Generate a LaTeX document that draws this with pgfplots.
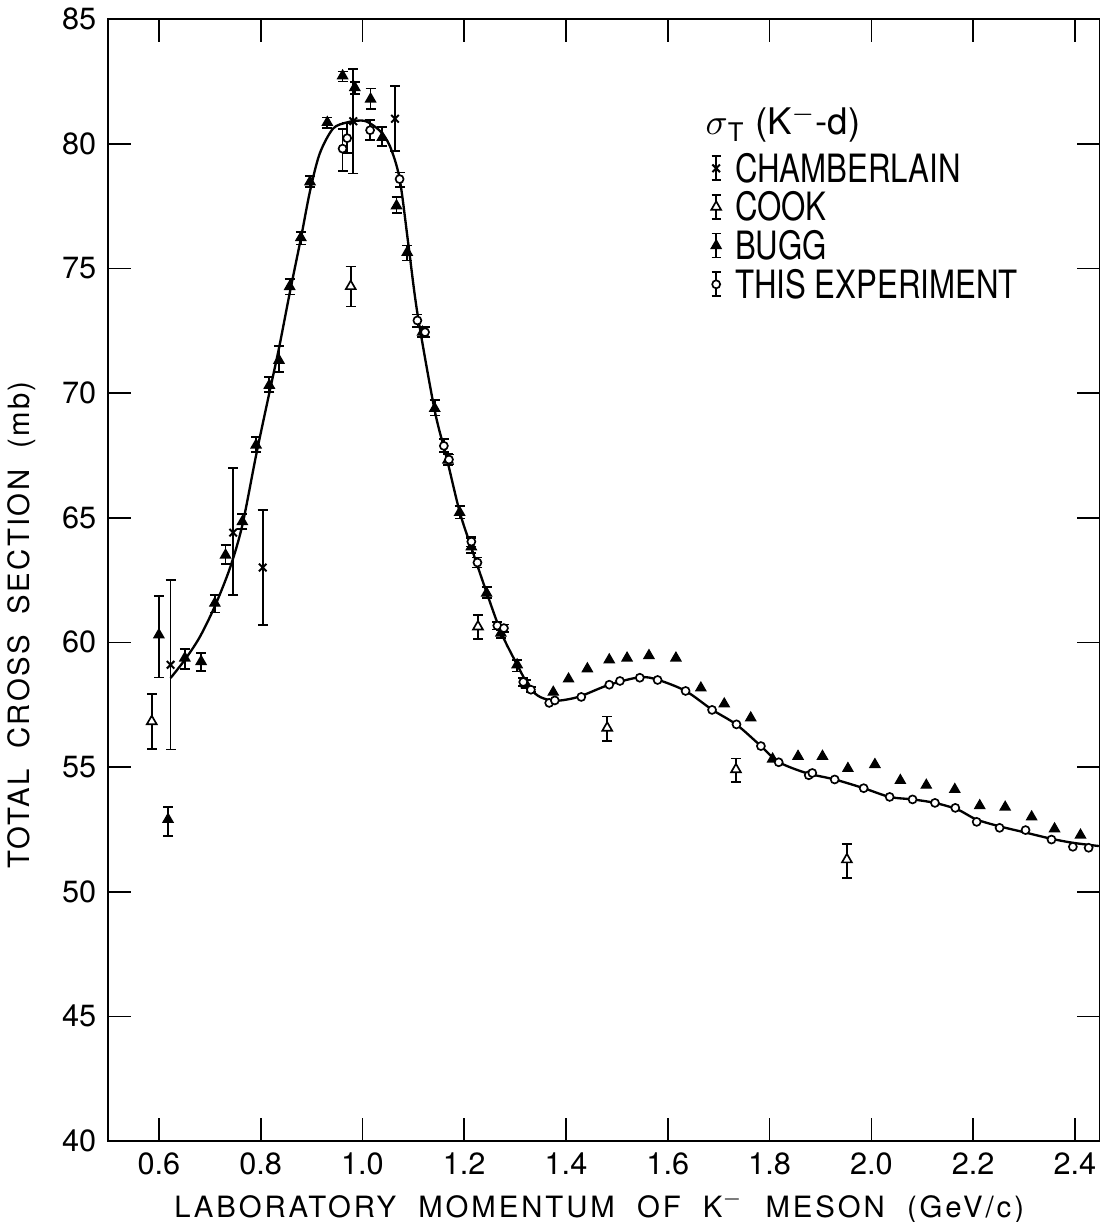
\documentclass[border=0pt]{standalone}
\usepackage{fontspec}
\setmainfont{TeX Gyre Heros}
\usepackage{graphicx}
\usepackage{pgfplots}
\pgfplotsset{compat=1.18}
\pgfplotsset{
  ebar/.style={
    error bars/y dir=both, error bars/y explicit,
    error bars/error mark options={rotate=90, mark size=1.5pt, line width=0.5pt, black, solid},
    error bars/error bar style={line width=0.5pt, black, solid}},
}
\begin{document}
\begin{tikzpicture}
\path[use as bounding box] (-32.4pt,-24.3pt) rectangle (297.3pt,342.3pt);
\begin{axis}[
  scale only axis, width=297.7pt, height=336.6pt,
  xmin=0.5, xmax=2.45, ymin=40, ymax=85,
  xtick={0.6,0.8,1.0,1.2,1.4,1.6,1.8,2.0,2.2,2.4},
  xticklabels={0.6,0.8,1.0,1.2,1.4,1.6,1.8,2.0,2.2,2.4},
  ytick={40,45,50,55,60,65,70,75,80,85},
  tick align=inside, major tick length=7pt,
  tick style={line width=0.5pt, black},
  axis line style={line width=0.6pt},
  /pgf/number format/assume math mode=true,
  tick label style={font=\fontsize{9.2}{10}\selectfont},
  xlabel={\addfontfeature{LetterSpace=10}LABORATORY\ \ MOMENTUM\ \ OF\ \ K$^{-}$\ \ MESON\ \ (GeV/c)},
  ylabel={\addfontfeature{LetterSpace=8}TOTAL\ \ CROSS\ \ SECTION\ \ (mb)},
  every axis x label/.style={at={(rel axis cs:0.495,0)}, yshift=-22.8pt, anchor=base, font=\fontsize{8.8}{10}\selectfont},
  every axis y label/.style={at={(rel axis cs:0,0.46)}, xshift=-25.8pt, rotate=90, anchor=center, font=\fontsize{8.8}{10}\selectfont},
  legend style={draw=none, fill=none, at={(axis cs:1.683,79.6)}, anchor=north west,
    font=\fontsize{11.7}{12}\selectfont, row sep=3.2pt, inner sep=0pt, column sep=4pt,
    nodes={inner sep=0pt, text height=8.4pt, text depth=0pt}},
  legend cell align=left,
  legend image code/.code={
    \draw[line width=0.5pt, solid] (0pt,-3.6pt) -- (0pt,3.6pt) (-1.4pt,-3.6pt) -- (1.4pt,-3.6pt) (-1.4pt,3.6pt) -- (1.4pt,3.6pt);
    \draw[mark repeat=2, mark phase=2, #1] plot coordinates {(0pt,0pt) (0pt,0pt) (0pt,0pt)};
  },
]
% fitted curve
\addplot[black, line width=0.7pt, smooth, tension=0.5, forget plot] table {
x y
0.623 58.57
0.651 59.3
0.680 60.2
0.710 61.45
0.740 63.0
0.764 64.7
0.791 67.5
0.817 70.0
0.836 71.8
0.857 74.0
0.879 76.2
0.897 78.1
0.916 79.6
0.942 80.6
0.969 80.85
0.988 80.92
1.008 80.89
1.034 80.52
1.054 79.9
1.073 78.6
1.090 76.0
1.108 73.2
1.142 69.3
1.165 67.44
1.191 65.24
1.214 63.8
1.244 62.0
1.273 60.37
1.304 59.1
1.329 58.17
1.349 57.81
1.375 57.66
1.400 57.7
1.430 57.85
1.485 58.3
1.545 58.6
1.580 58.5
1.635 58.05
1.687 57.3
1.735 56.7
1.783 55.84
1.818 55.2
1.872 54.76
1.928 54.5
1.985 54.15
2.036 53.8
2.081 53.7
2.125 53.56
2.169 53.3
2.206 52.9
2.252 52.62
2.305 52.36
2.354 52.12
2.396 51.96
2.447 51.83
};
% Chamberlain
\addplot[black, only marks, mark=x, mark size=1.6pt, mark options={line width=0.6pt}, ebar]
  table[x=x, y=y, y error plus=ep, y error minus=em] {
x y ep em
0.623 59.1 3.4 3.4
0.746 64.4 2.6 2.5
0.804 63.0 2.3 2.3
0.982 80.9 2.1 2.1
1.064 81.0 1.3 1.3
};
\addlegendentry{\scalebox{0.8}[1]{CHAMBERLAIN}}
% Cook
\addplot[black, only marks, mark=triangle*, mark size=1.7pt, mark options={fill=white, line width=0.5pt}, ebar]
  table[x=x, y=y, y error plus=ep, y error minus=em] {
x y ep em
0.586 56.83 1.09 1.11
0.977 74.28 0.79 0.81
1.227 60.63 0.47 0.50
1.481 56.57 0.46 0.54
1.734 54.90 0.44 0.50
1.952 51.29 0.63 0.74
};
\addlegendentry{\scalebox{0.8}[1]{COOK}}
% Bugg
\addplot[black, only marks, mark=triangle*, mark size=1.7pt, mark options={fill=black}, ebar]
  table[x=x, y=y, y error plus=ep, y error minus=em] {
x y ep em
0.600 60.30 1.57 1.71
0.618 52.90 0.50 0.67
0.651 59.37 0.37 0.43
0.683 59.23 0.34 0.37
0.710 61.57 0.33 0.37
0.731 63.50 0.40 0.36
0.764 64.84 0.30 0.30
0.791 67.91 0.32 0.28
0.817 70.31 0.32 0.27
0.836 71.31 0.57 0.47
0.857 74.27 0.31 0.32
0.879 76.23 0.24 0.28
0.897 78.47 0.24 0.22
0.931 80.85 0.20 0.23
0.961 82.72 0.17 0.23
0.985 82.25 0.23 0.25
1.016 81.79 0.42 0.40
1.039 80.25 0.43 0.33
1.067 77.51 0.34 0.30
1.088 75.64 0.27 0.33
1.118 72.44 0.20 0.20
1.142 69.38 0.33 0.28
1.168 67.31 0.24 0.20
1.191 65.21 0.25 0.24
1.214 63.83 0.35 0.24
1.244 61.97 0.25 0.19
1.272 60.37 0.13 0.20
1.304 59.10 0.20 0.27
1.322 58.30 0.20 0.13
};
\addlegendentry{\scalebox{0.8}[1]{BUGG}}
% This experiment
\addplot[black, only marks, mark=*, mark size=1.2pt, mark options={fill=white, line width=0.5pt}, ebar]
  table[x=x, y=y, y error plus=ep, y error minus=em] {
x y ep em
0.961 79.80 0.80 0.90
0.970 80.22 0.60 0.60
1.015 80.54 0.40 0.40
1.073 78.58 0.27 0.33
1.108 72.91 0.24 0.27
1.123 72.44 0.20 0.20
1.160 67.88 0.27 0.24
1.170 67.33 0.20 0.20
1.214 64.04 0.20 0.20
1.226 63.20 0.20 0.20
1.265 60.67 0.15 0.15
1.278 60.57 0.15 0.15
1.316 58.41 0.15 0.15
1.331 58.10 0.10 0.10
};
\addlegendentry{\scalebox{0.8}[1]{THIS EXPERIMENT}}
% Bugg without error bars
\addplot[black, only marks, mark=triangle*, mark size=1.7pt, mark options={fill=black}, forget plot] table {
x y
1.375 58.00
1.405 58.53
1.442 58.94
1.485 59.30
1.520 59.37
1.563 59.47
1.616 59.37
1.665 58.17
1.711 57.53
1.763 56.97
1.806 55.32
1.856 55.43
1.904 55.43
1.954 54.94
2.007 55.10
2.057 54.46
2.108 54.27
2.164 54.10
2.213 53.45
2.263 53.39
2.315 53.00
2.360 52.52
2.411 52.27
};
% This experiment without error bars
\addplot[black, only marks, mark=*, mark size=1.2pt, mark options={fill=white, line width=0.5pt}, forget plot] table {
x y
1.367 57.57
1.378 57.67
1.430 57.81
1.485 58.30
1.506 58.45
1.545 58.58
1.580 58.49
1.635 58.05
1.687 57.29
1.735 56.71
1.783 55.84
1.818 55.19
1.877 54.67
1.884 54.76
1.928 54.50
1.985 54.15
2.036 53.80
2.081 53.70
2.125 53.56
2.165 53.36
2.207 52.80
2.252 52.56
2.303 52.47
2.354 52.09
2.396 51.80
2.427 51.76
};
\node[anchor=base west, inner sep=0pt, font=\fontsize{11}{12}\selectfont] at (axis cs:1.673,80.35) {$\sigma$\textsubscript{T}\ (K$^{-}$-d)};
\end{axis}
\end{tikzpicture}
\end{document}
